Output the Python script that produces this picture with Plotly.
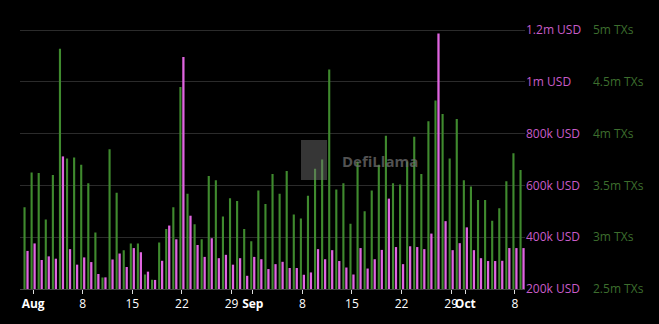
import pandas as pd
import plotly.graph_objects as go

start_date = "2023-07-31"
n_days = 71
dates = pd.date_range(start_date, periods=n_days, freq="D")

# Daily transactions (millions)
txs_m = [3.29, 3.625, 3.62, 3.17, 3.60, 4.82, 3.76, 3.77, 3.70, 3.52,
         3.045, 2.61, 3.85, 3.43, 2.875, 2.94, 2.94, 2.64, 2.59, 2.95,
         3.08, 3.29, 4.45, 3.42, 3.125, 2.98, 3.59, 3.55, 3.20, 3.375,
         3.35, 3.08, 2.96, 3.45, 3.32, 3.61, 3.42, 3.64, 3.22, 3.18,
         3.40, 3.66, 3.75, 4.62, 3.46, 3.52, 3.13, 3.73, 3.25, 3.45,
         3.70, 3.98, 3.52, 3.51, 3.73, 3.97, 3.61, 4.12, 4.32, 4.19,
         3.76, 4.14, 3.55, 3.49, 3.36, 3.36, 3.16, 3.28, 3.54, 3.81,
         3.65]

# Daily volume (thousand USD)
usd_k = [347, 376, 312, 326, 317, 712, 354, 294, 322, 304,
         258, 245, 314, 337, 285, 358, 342, 267, 235, 309,
         445, 392, 1096, 483, 370, 324, 396, 319, 332, 294,
         319, 251, 324, 315, 277, 296, 305, 281, 281, 255,
         264, 354, 315, 350, 308, 283, 256, 358, 279, 315,
         351, 549, 362, 296, 365, 362, 354, 414, 1187, 462,
         350, 377, 438, 350, 319, 308, 308, 309, 358, 358,
         358]

x_tick_dates = ["2023-08-01", "2023-08-08", "2023-08-15", "2023-08-22", "2023-08-29",
                "2023-09-01", "2023-09-08", "2023-09-15", "2023-09-22", "2023-09-29",
                "2023-10-01", "2023-10-08"]
x_tick_text = ["<b>Aug</b>", "8", "15", "22", "29", "<b>Sep</b>", "8", "15", "22", "29",
               "<b>Oct</b>", "8"]

usd_ticks = [200000, 400000, 600000, 800000, 1000000, 1200000]
usd_text = ["200k USD", "400k USD", "600k USD", "800k USD", "1m USD", "1.2m USD"]
tx_ticks = [2.5e6, 3e6, 3.5e6, 4e6, 4.5e6, 5e6]
tx_text = ["2.5m TXs", "3m TXs", "3.5m TXs", "4m TXs", "4.5m TXs", "5m TXs"]

GREEN = "#3f8a2e"
PINK = "#e065e0"
DAY = 86400000

fig = go.Figure()
fig.add_trace(go.Bar(
    x=dates, y=[v * 1e6 for v in txs_m], yaxis="y2",
    marker=dict(color=GREEN, line=dict(width=0)),
    width=[0.3 * DAY] * n_days, offset=-0.36 * DAY, name="TXs",
))
fig.add_trace(go.Bar(
    x=dates, y=[v * 1e3 for v in usd_k], yaxis="y",
    marker=dict(color=PINK, line=dict(width=0)),
    width=[0.32 * DAY] * n_days, offset=0.05 * DAY, name="USD",
))

x0 = pd.Timestamp(start_date) - pd.Timedelta(hours=0.85 * 24)
x1 = pd.Timestamp(start_date) + pd.Timedelta(hours=70.42 * 24)

L, R = 20, 0
W = 659 - L - R
dom_end = (525 - L) / W
pos2 = (592 - L) / W

fig.update_layout(
    width=659, height=324,
    margin=dict(l=L, r=R, t=29, b=35),
    paper_bgcolor="#000000", plot_bgcolor="#000000",
    showlegend=False, barmode="overlay",
    font=dict(family="Open Sans, sans-serif", size=12, color="#ffffff"),
    xaxis=dict(
        type="date", domain=[0, dom_end], range=[x0, x1],
        tickvals=x_tick_dates, ticktext=x_tick_text, tickangle=0,
        ticks="outside", ticklen=4, tickcolor="#dddddd", tickwidth=1,
        showgrid=False, zeroline=False, showline=True, linecolor="#444444", linewidth=1,
        tickfont=dict(color="#ffffff", size=12),
    ),
    yaxis=dict(
        side="right", range=[200000, 1204000],
        tickvals=usd_ticks, ticktext=usd_text,
        tickfont=dict(color="#c85cc8", size=12),
        showgrid=True, gridcolor="#2b2b2b", gridwidth=1,
        zeroline=False, showline=False, ticks="",
    ),
    yaxis2=dict(
        overlaying="y", side="right", anchor="free", position=pos2,
        range=[2.5e6, 5.01e6],
        tickvals=tx_ticks, ticktext=tx_text,
        tickfont=dict(color="#3d6e2e", size=12),
        showgrid=False, zeroline=False, showline=False, ticks="",
    ),
)

# DefiLlama watermark
def px_x(px):
    return (px - L) / W

def px_y(py):
    return (289 - py) / 260

fig.add_shape(type="rect", xref="paper", yref="paper",
              x0=px_x(301), x1=px_x(327), y0=px_y(180), y1=px_y(140),
              fillcolor="rgba(120,120,120,0.45)", line=dict(width=0), layer="above")
fig.add_annotation(xref="paper", yref="paper", x=px_x(380), y=px_y(161),
                   text="<b>DefiLlama</b>", showarrow=False,
                   font=dict(family="Open Sans, sans-serif", size=15, color="rgba(110,110,110,0.75)"))

fig.write_html("out.html")
